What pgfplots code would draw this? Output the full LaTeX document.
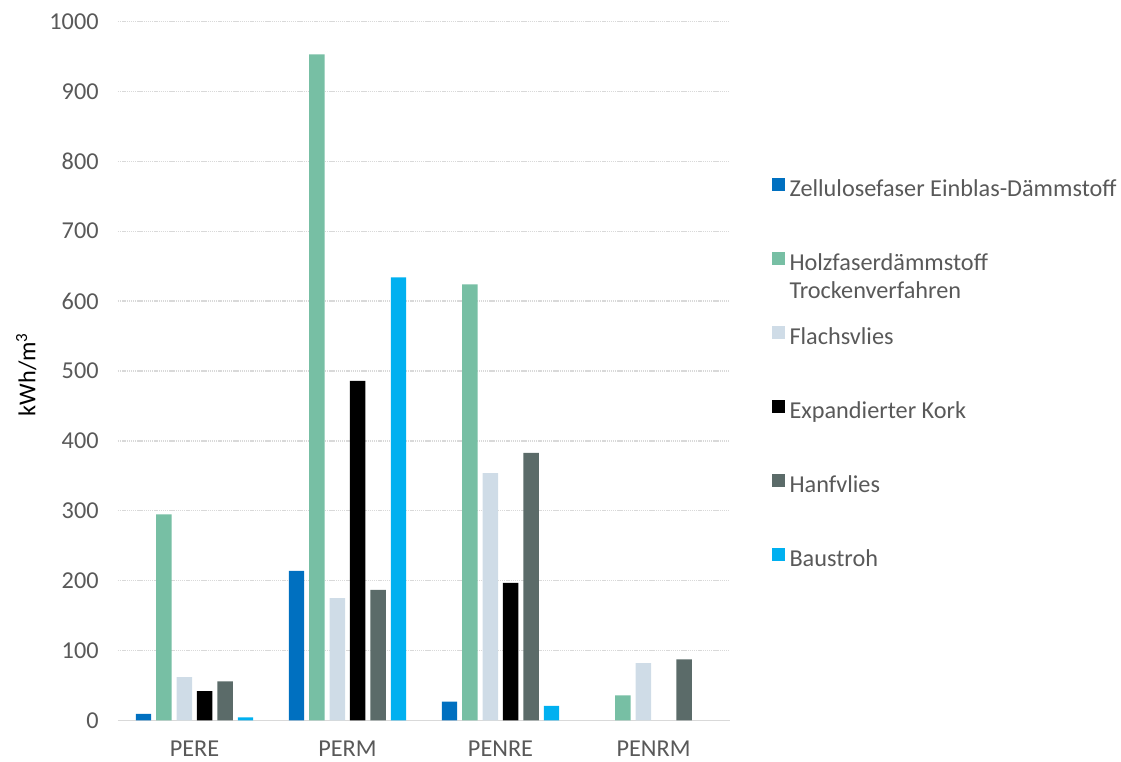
\documentclass[border=0pt]{standalone}
\usepackage{pgfplots}
\pgfplotsset{compat=1.18}
\usepackage{fontspec}
\setmainfont{Carlito}
\definecolor{tc}{HTML}{595959}
\definecolor{gridc}{HTML}{D9D9D9}
\definecolor{czell}{HTML}{0070C0}
\definecolor{cholz}{HTML}{77BFA4}
\definecolor{cflachs}{HTML}{CFDCE7}
\definecolor{ckork}{HTML}{000000}
\definecolor{chanf}{HTML}{5B6B69}
\definecolor{cstroh}{HTML}{00B0F0}
\begin{document}
\begin{tikzpicture}[font=\fontsize{18.2}{21}\selectfont]
\path[use as bounding box] (0,0) rectangle (840.75pt,571.5pt);
\begin{axis}[
  at={(88.5pt,31.125pt)}, anchor=south west,
  scale only axis, width=459pt, height=524.25pt,
  xmin=-0.5, xmax=3.5, ymin=0, ymax=1000,
  xtick={0,1,2,3}, xticklabels={PERE,PERM,PENRE,PENRM},
  ytick={0,100,...,1000},
  /pgf/number format/assume math mode=true,
  /pgf/number format/1000 sep={},
  tick style={draw=none},
  axis line style={draw=none},
  ymajorgrids, grid style={gridc, line width=1pt, dash pattern=on 1pt off 0.6pt},
  extra y ticks={0}, extra y tick labels={},
  extra y tick style={grid style={gridc, solid, line width=1pt}},
  tick label style={text=tc},
  yticklabel style={xshift=-11pt},
  xticklabel style={inner sep=0pt, text depth=0pt, yshift=-10.5pt},
  ylabel={kWh/m\textsuperscript{3}},
  ylabel style={text=tc},
  every axis y label/.style={at={(axis description cs:-0.15,0.495)}, rotate=90, anchor=center},
  ybar, bar width=0.101,
  legend cell align=left,
  legend image code/.code={\fill[#1] (0pt,0pt) rectangle (9.4pt,9.4pt);},
  legend style={at={(1.0686,0.776)}, anchor=north west, draw=none, fill=none,
     inner sep=0pt, outer sep=0pt, row sep=36.5pt, column sep=3.75pt,
     nodes={inner sep=0pt, text height=14pt, text depth=5pt, text=tc}},
]
\addplot[fill=czell, draw=none, bar shift=-0.3333] coordinates {(0,9.3) (1,214) (2,27)};
\addlegendentry{Zellulosefaser Einblas-Dämmstoff}
\addplot[fill=cholz, draw=none, bar shift=-0.2] coordinates {(0,295) (1,953) (2,624) (3,36)};
\addlegendentry{\begin{tabular}[t]{@{}l@{}}Holzfaserdämmstoff\\Trockenverfahren\end{tabular}}
\addplot[fill=cflachs, draw=none, bar shift=-0.0667] coordinates {(0,62) (1,175) (2,354) (3,82)};
\addlegendentry{Flachsvlies}
\addplot[fill=ckork, draw=none, bar shift=0.0667] coordinates {(0,42) (1,486) (2,197)};
\addlegendentry{Expandierter Kork}
\addplot[fill=chanf, draw=none, bar shift=0.2] coordinates {(0,56) (1,187) (2,383) (3,87.5)};
\addlegendentry{Hanfvlies}
\addplot[fill=cstroh, draw=none, bar shift=0.3333] coordinates {(0,4.6) (1,634) (2,21)};
\addlegendentry{Baustroh}
\end{axis}
\end{tikzpicture}
\end{document}
